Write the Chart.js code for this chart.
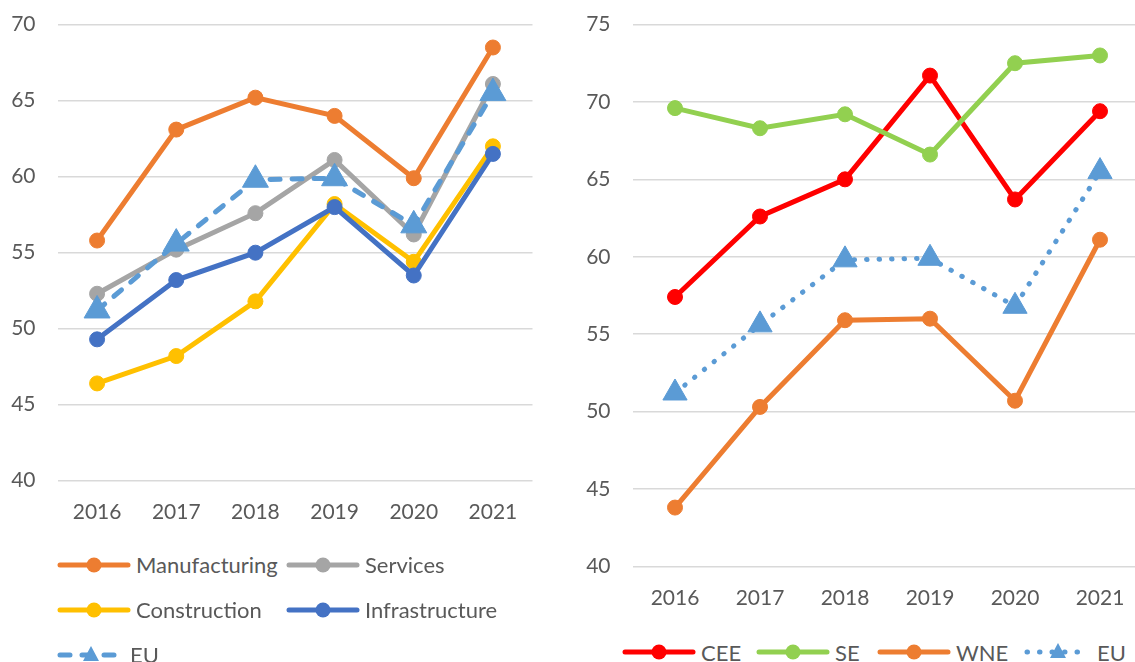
<!DOCTYPE html>
<html>
<head>
<meta charset="utf-8">
<script src="https://cdn.jsdelivr.net/npm/chart.js@4.4.1/dist/chart.umd.min.js"></script>
<style>
  body { margin: 0; background: #fff; overflow: hidden; width: 1135px; height: 662px; position: relative; font-family: Lato, sans-serif; color: #595959; }
  #leftBox { position: absolute; left: 0; top: 0; }
  #rightBox { position: absolute; left: 580px; top: 0; }
  .legend { position: absolute; font-size: 22px; color: #595959; }
  #leftLegend { left: 57px; top: 542px; display: grid; grid-template-columns: 229px 229px; grid-auto-rows: 45px; }
  #rightLegend { left: 622px; top: 637px; height: 30px; display: flex; }
  #rightLegend .item:nth-child(1) { width: 134px; }
  #rightLegend .item:nth-child(2) { width: 121px; }
  #rightLegend .item:nth-child(3) { width: 147px; }
  .item { display: flex; align-items: center; gap: 5px; white-space: nowrap; }
  .item canvas { display: block; }
</style>
</head>
<body>
<div id="leftBox"><canvas id="leftChart" width="560" height="530"></canvas></div>
<div id="rightBox"><canvas id="rightChart" width="600" height="615"></canvas></div>
<div id="leftLegend" class="legend"></div>
<div id="rightLegend" class="legend"></div>
<script>
// categories
var years = ['2016', '2017', '2018', '2019', '2020', '2021'];

// left chart: by sector
var manufacturing  = [55.8, 63.1, 65.2, 64.0, 59.9, 68.5];
var services       = [52.3, 55.2, 57.6, 61.1, 56.2, 66.1];
var construction   = [46.4, 48.2, 51.8, 58.2, 54.4, 62.0];
var infrastructure = [49.3, 53.2, 55.0, 58.0, 53.5, 61.5];
var euAll          = [51.2, 55.6, 59.8, 59.9, 56.8, 65.5];

// right chart: by region
var cee = [57.4, 62.6, 65.0, 71.7, 63.7, 69.4];
var se  = [69.6, 68.3, 69.2, 66.6, 72.5, 73.0];
var wne = [43.8, 50.3, 55.9, 56.0, 50.7, 61.1];

// y axis ranges (tick labels)
var leftY  = { min: 40, max: 70, step: 5 };
var rightY = { min: 40, max: 75, step: 5 };

var txt = '#595959';
var font = { family: 'Lato', size: 21 };

function lineSet(label, data, color, order) {
  return {
    label: label, data: data, order: order,
    borderColor: color, backgroundColor: color,
    pointBackgroundColor: color, pointBorderColor: color,
    borderWidth: 5, pointRadius: 7.5, pointBorderWidth: 1,
    pointStyle: 'circle', tension: 0
  };
}

function euSet(data, dash, r) {
  var ds = lineSet('EU', data, '#5B9BD5', 0);
  ds.borderDash = dash;
  ds.borderCapStyle = 'round';
  ds.pointStyle = 'triangle';
  ds.pointRadius = r;
  return ds;
}

function makeOptions(range, yWidth, xHeight, padRight, padTop) {
  return {
    responsive: false,
    animation: false,
    layout: { padding: { left: 0, right: padRight, top: padTop, bottom: 0 } },
    plugins: { legend: { display: false }, tooltip: { enabled: false } },
    scales: {
      x: {
        offset: true,
        grid: { display: false, drawTicks: false },
        border: { display: false },
        ticks: { color: txt, font: font, padding: 19, maxRotation: 0 },
        afterFit: function(s) { s.height = xHeight; s.paddingLeft = 0; s.paddingRight = 0; }
      },
      y: {
        min: range.min, max: range.max,
        grid: { color: '#D9D9D9', lineWidth: 1.5, drawTicks: false },
        border: { display: false },
        ticks: { stepSize: range.step, color: txt, font: font, padding: 22 },
        afterFit: function(s) { s.width = yWidth; s.paddingTop = 0; s.paddingBottom = 0; }
      }
    }
  };
}

var leftSets = [
  lineSet('Manufacturing', manufacturing, '#ED7D31', 5),
  lineSet('Services', services, '#A5A5A5', 4),
  lineSet('Construction', construction, '#FFC000', 3),
  lineSet('Infrastructure', infrastructure, '#4472C4', 2),
  euSet(euAll, [10, 12], 15)
];

var rightSets = [
  lineSet('CEE', cee, '#FF0000', 4),
  lineSet('SE', se, '#92D050', 3),
  lineSet('WNE', wne, '#ED7D31', 2),
  euSet(euAll, [0.5, 12], 14)
];

new Chart(document.getElementById('leftChart'), {
  type: 'line',
  data: { labels: years, datasets: leftSets },
  options: makeOptions(leftY, 57.5, 530 - 480.7, 27.5, 24.7)
});

new Chart(document.getElementById('rightChart'), {
  type: 'line',
  data: { labels: years, datasets: rightSets },
  options: makeOptions(rightY, 52.5, 615 - 566.4, 37.5, 24.5)
});

// html legend built from the datasets
function swatch(ds, w) {
  var c = document.createElement('canvas');
  c.width = w; c.height = 30;
  var g = c.getContext('2d');
  g.strokeStyle = ds.borderColor;
  g.lineWidth = 5;
  g.lineCap = 'round';
  g.setLineDash(ds.borderDash || []);
  g.beginPath(); g.moveTo(3, 15); g.lineTo(w - 3, 15); g.stroke();
  g.setLineDash([]);
  g.fillStyle = ds.pointBackgroundColor;
  g.beginPath();
  if (ds.pointStyle === 'triangle') {
    g.moveTo(w / 2, 6); g.lineTo(w / 2 + 8, 21); g.lineTo(w / 2 - 8, 21);
  } else {
    g.arc(w / 2, 15, 7.5, 0, Math.PI * 2);
  }
  g.fill();
  return c;
}

function buildLegend(el, sets, w) {
  sets.forEach(function(ds) {
    var it = document.createElement('div');
    it.className = 'item';
    it.appendChild(swatch(ds, ds.label === 'EU' ? w - 6 : w));
    var s = document.createElement('span');
    s.textContent = ds.label;
    it.appendChild(s);
    el.appendChild(it);
  });
}

buildLegend(document.getElementById('leftLegend'), leftSets, 74);
buildLegend(document.getElementById('rightLegend'), rightSets, 74);
</script>
</body>
</html>
